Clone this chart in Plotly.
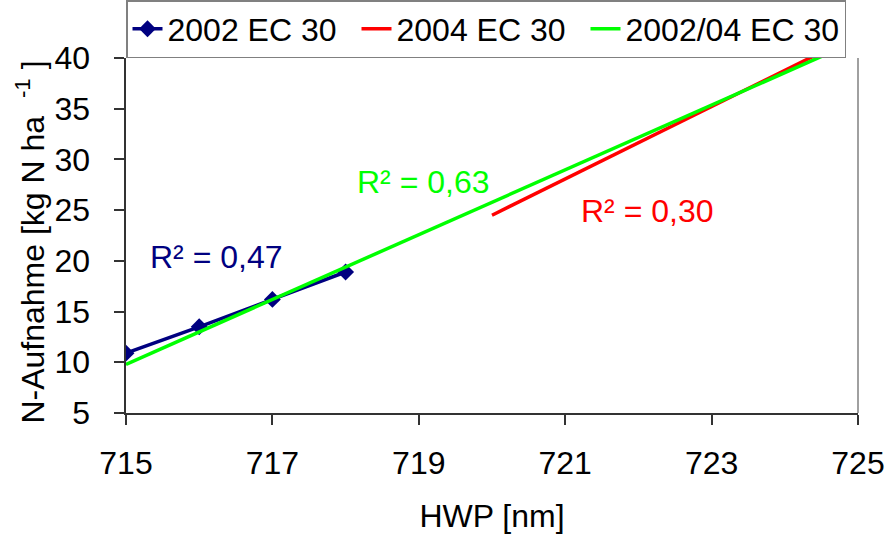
import plotly.graph_objects as go

# Measured N uptake, 2002 growth stage EC 30
hwp_2002 = [715, 716, 717, 718]
n_2002 = [10.9, 13.5, 16.2, 18.9]

# Linear trend, 2004 EC 30
hwp_2004_fit = [720, 725]
n_2004_fit = [24.5, 42.35]

# Linear trend, pooled 2002/04 EC 30
hwp_pool_fit = [715, 725]
n_pool_fit = [9.8, 41.75]

# Coefficients of determination and label anchors
r2_labels = ["R² = 0,47", "R² = 0,63", "R² = 0,30"]
r2_colors = ["#000080", "#00FF00", "#FF0000"]
r2_x = [716.23, 719.07, 722.12]
r2_y = [20.4, 27.8, 24.9]

FONT = "Liberation Sans, Arial, sans-serif"
PLOT_W = 886 - 126 - 28

fig = go.Figure()
fig.add_trace(go.Scatter(
    x=hwp_2002, y=n_2002, mode="lines+markers", name="2002 EC 30",
    line=dict(color="#000080", width=3.5),
    marker=dict(symbol="diamond", size=13, color="#000080"),
    legendwidth=184,
))
fig.add_trace(go.Scatter(
    x=hwp_2004_fit, y=n_2004_fit, mode="lines", name="2004 EC 30",
    line=dict(color="#FF0000", width=3.5),
    legendwidth=184,
))
fig.add_trace(go.Scatter(
    x=hwp_pool_fit, y=n_pool_fit, mode="lines", name="2002/04 EC 30",
    line=dict(color="#00FF00", width=3.5),
))

for txt, col, xx, yy in zip(r2_labels, r2_colors, r2_x, r2_y):
    fig.add_annotation(x=xx, y=yy, text=txt, showarrow=False,
                       font=dict(family=FONT, size=32, color=col))

# Rotated y-axis title
fig.add_annotation(
    xref="paper", yref="paper", x=-96 / PLOT_W, y=0.48,
    xanchor="center", yanchor="middle", textangle=-90, showarrow=False,
    text="N-Aufnahme [kg N ha&nbsp;&nbsp;<sup>-1</sup>&nbsp;]",
    font=dict(family=FONT, size=32, color="black"),
)

fig.update_layout(
    width=886, height=540,
    margin=dict(l=126, r=28, t=58, b=127, autoexpand=False),
    paper_bgcolor="white", plot_bgcolor="white",
    font=dict(family=FONT, size=32, color="black"),
    showlegend=True,
    legend=dict(
        orientation="h", x=0, xanchor="left", y=1, yanchor="bottom",
        bordercolor="#808080", borderwidth=1.5, bgcolor="white",
        font=dict(family=FONT, size=32, color="black"),
        tracegroupgap=0,
    ),
    xaxis=dict(
        range=[715, 725], dtick=2, tick0=715,
        showgrid=False, zeroline=False,
        showline=True, linecolor="#333333", linewidth=1.5,
        ticks="outside", ticklen=10, tickcolor="#333333", tickwidth=1.5,
        ticklabelstandoff=11,
        title=dict(text="HWP [nm]", font=dict(size=32), standoff=24),
    ),
    yaxis=dict(
        range=[5, 40], dtick=5, tick0=5,
        showgrid=False, zeroline=False,
        showline=True, linecolor="#333333", linewidth=1.5,
        ticks="outside", ticklen=10, tickcolor="#333333", tickwidth=1.5,
        ticksuffix="\u00a0\u00a0",
    ),
)

# Right-hand frame of the plot area
fig.add_shape(type="line", xref="paper", yref="paper", x0=1, x1=1, y0=0, y1=1,
              line=dict(color="#808080", width=1.5))

fig.write_html("out.html")
